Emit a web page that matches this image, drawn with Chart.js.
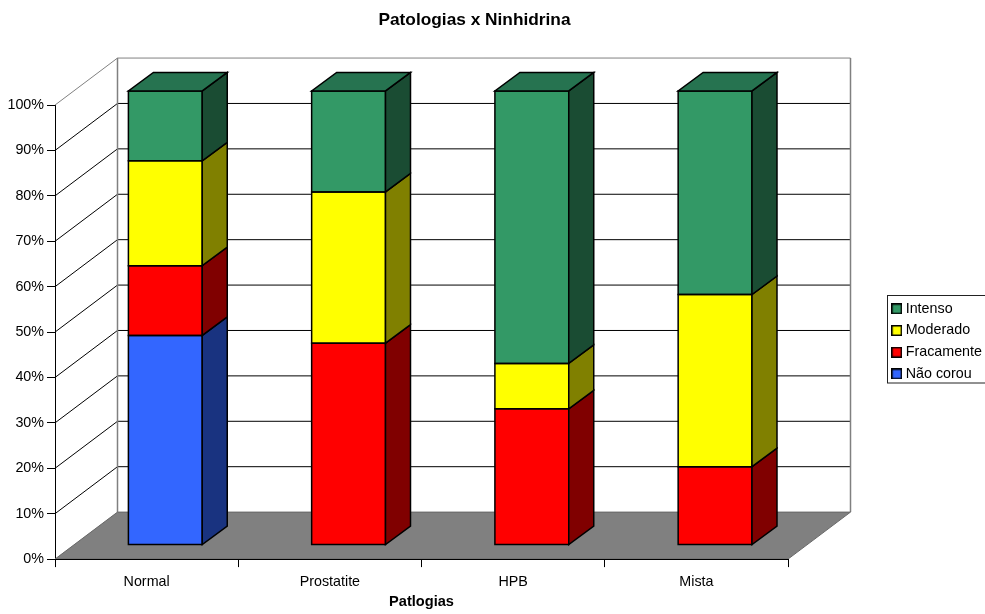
<!DOCTYPE html>
<html>
<head>
<meta charset="utf-8">
<title>Patologias x Ninhidrina</title>
<script src="https://cdn.jsdelivr.net/npm/chart.js@4"></script>
<style>
  html, body { margin: 0; background: #fff; overflow: hidden; }
  canvas { display: block; }
</style>
</head>
<body>
<canvas id="chart" width="985" height="614"></canvas>
<script>
const categories = ['Normal', 'Prostatite', 'HPB', 'Mista'];
const naoCorou = [46.15, 0, 0, 0];
const fracamente = [15.38, 44.44, 30, 17.24];
const moderado = [23.08, 33.33, 10, 37.93];
const intenso = [15.39, 22.23, 60, 44.83];

const FONT = 'Arial, "Liberation Sans", sans-serif';

// depth of the box and of the bars inside it
const WALL_DX = 62.5, WALL_DY = 47;
const BAR_DX = 18.7, BAR_DY = 14.1;
const SIDE_DX = 25, SIDE_DY = 18.5;

function series(label, values, color, side) {
  return {
    label, data: values,
    backgroundColor: color, sideColor: side,
    borderWidth: 0,
    barPercentage: 0.403, categoryPercentage: 1,
    clip: false
  };
}

// legend square, the default one leaves too wide a gap before the text
function swatch(color) {
  const c = document.createElement('canvas');
  c.width = c.height = 11;
  const g = c.getContext('2d');
  g.fillStyle = color;
  g.fillRect(0, 0, 11, 11);
  g.strokeStyle = '#000';
  g.lineWidth = 1.5;
  g.strokeRect(0.75, 0.75, 9.5, 9.5);
  return c;
}

function poly(ctx, pts, fill, stroke, lw) {
  ctx.beginPath();
  pts.forEach((p, i) => i ? ctx.lineTo(p[0], p[1]) : ctx.moveTo(p[0], p[1]));
  ctx.closePath();
  if (fill) { ctx.fillStyle = fill; ctx.fill(); }
  if (stroke) { ctx.strokeStyle = stroke; ctx.lineWidth = lw; ctx.stroke(); }
}

function line(ctx, x1, y1, x2, y2, color, lw) {
  ctx.beginPath();
  ctx.moveTo(x1, y1);
  ctx.lineTo(x2, y2);
  ctx.strokeStyle = color;
  ctx.lineWidth = lw || 1;
  ctx.stroke();
}

// walls and floor, bars get shifted back into the box
const box3d = {
  id: 'box3d',
  afterLayout(chart) {
    const t = chart.titleBlock;
    t.left = 0;
    t.right = 949;
    const l = chart.legend;
    l.left = 887.45;
    l.top = 294.3;
    l.right = l.left + l.width;
    l.bottom = l.top + l.height;
  },
  beforeDatasetsDraw(chart) {
    const ctx = chart.ctx;
    const { left, right } = chart.chartArea;
    const y = chart.scales.y;
    const y0 = y.getPixelForValue(0);
    ctx.save();
    y.ticks.forEach(tick => {
      const py = y.getPixelForValue(tick.value);
      if (tick.value === 0) return;
      const color = tick.value === 100 ? '#808080' : '#000';
      line(ctx, left, py, left + WALL_DX, py - WALL_DY, color);
      line(ctx, left + WALL_DX, py - WALL_DY, right + WALL_DX, py - WALL_DY, color);
    });
    line(ctx, left + WALL_DX, y.top - WALL_DY, left + WALL_DX, y0 - WALL_DY, '#808080', 1.5);
    line(ctx, right + WALL_DX, y.top - WALL_DY, right + WALL_DX, y0 - WALL_DY, '#808080', 1.5);
    poly(ctx, [[left, y0], [right, y0], [right + WALL_DX, y0 - WALL_DY], [left + WALL_DX, y0 - WALL_DY]], '#808080', '#666', 1);
    ctx.restore();

    ctx.save();
    ctx.translate(BAR_DX, -BAR_DY);
  },
  afterDatasetsDraw(chart) {
    const ctx = chart.ctx;
    const last = chart.data.datasets.length - 1;
    chart.data.datasets.forEach((ds, d) => {
      chart.getDatasetMeta(d).data.forEach((el, i) => {
        if (!ds.data[i]) return;
        const p = el.getProps(['x', 'y', 'base', 'width'], true);
        const r = p.x + p.width / 2, l = p.x - p.width / 2;
        poly(ctx, [[l, p.y], [r, p.y], [r, p.base], [l, p.base]], null, '#000', 1.5);
        poly(ctx, [[r, p.y], [r + SIDE_DX, p.y - SIDE_DY], [r + SIDE_DX, p.base - SIDE_DY], [r, p.base]], ds.sideColor, '#000', 1.5);
        if (d === last) {
          poly(ctx, [[l, p.y], [r, p.y], [r + SIDE_DX, p.y - SIDE_DY], [l + SIDE_DX, p.y - SIDE_DY]], '#267350', '#000', 1.5);
        }
      });
    });
    ctx.restore();
  },
  afterDraw(chart) {
    const ctx = chart.ctx;
    ctx.save();
    ctx.strokeStyle = '#222';
    ctx.lineWidth = 1;
    ctx.strokeRect(887.5, 295.5, 120, 87.5);
    ctx.restore();
  }
};

new Chart(document.getElementById('chart'), {
  type: 'bar',
  data: {
    labels: categories,
    datasets: [
      series('Não corou', naoCorou, '#3366FF', '#193380'),
      series('Fracamente', fracamente, '#FF0000', '#800000'),
      series('Moderado', moderado, '#FFFF00', '#808000'),
      series('Intenso', intenso, '#339966', '#1A4C33')
    ]
  },
  plugins: [box3d],
  options: {
    responsive: false,
    animation: false,
    layout: { autoPadding: false, padding: { left: 0, top: 0, right: 197, bottom: 0 } },
    plugins: {
      title: {
        display: true,
        text: 'Patologias x Ninhidrina',
        color: '#000',
        font: { family: FONT, size: 17.3, weight: 'bold' },
        padding: { top: 9.6, bottom: 74.7 }
      },
      legend: {
        position: 'chartArea',
        align: 'start',
        reverse: true,
        labels: {
          color: '#000',
          font: { family: FONT, size: 14.3 },
          usePointStyle: true,
          pointStyleWidth: 3.7,
          boxHeight: 10,
          padding: 7.4,
          generateLabels(chart) {
            return Chart.defaults.plugins.legend.labels.generateLabels(chart).map(item => {
              item.pointStyle = swatch(chart.data.datasets[item.datasetIndex].backgroundColor);
              return item;
            });
          }
        }
      },
      tooltip: { enabled: false }
    },
    scales: {
      x: {
        stacked: true,
        afterFit: s => { s.height = 54.9; },
        grid: { offset: true, drawOnChartArea: false, tickLength: 8, tickColor: '#000' },
        border: { color: '#000', z: 1 },
        ticks: { color: '#000', font: { family: FONT, size: 14.3 }, padding: 6, maxRotation: 0 },
        title: {
          display: true,
          text: 'Patlogias',
          color: '#000',
          font: { family: FONT, size: 14.6, weight: 'bold' },
          padding: { top: 0, bottom: 3.2 }
        }
      },
      y: {
        stacked: true,
        min: 0,
        max: 100,
        afterFit: s => { s.width = 55; },
        grid: { drawOnChartArea: false, tickLength: 8, tickColor: '#000' },
        border: { color: '#000' },
        ticks: {
          stepSize: 10,
          color: '#000',
          font: { family: FONT, size: 14.3 },
          padding: 3,
          callback: v => v + '%'
        }
      }
    }
  }
});
</script>
</body>
</html>
